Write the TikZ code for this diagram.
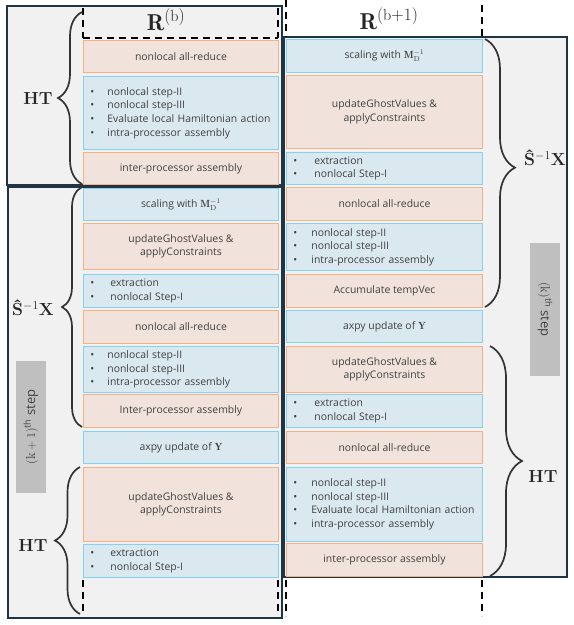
\documentclass[tikz,border=0pt]{standalone}
\usepackage{fontspec}
\setsansfont{Open Sans}
\usetikzlibrary{decorations.pathreplacing}
\definecolor{ofill}{HTML}{F1E3DC}
\definecolor{odraw}{HTML}{F4B183}
\definecolor{bfill}{HTML}{DAE8F0}
\definecolor{bdraw}{HTML}{86D0F0}
\definecolor{pfill}{HTML}{F1F1F1}
\definecolor{pdraw}{HTML}{1F3445}
\definecolor{txt}{HTML}{404040}
\definecolor{glab}{HTML}{BFBFBF}
\newcommand\bul[2][17pt]{\makebox[#1][l]{•}#2}
\tikzset{
  boxbase/.style={rectangle, line width=0.9pt, text=txt, anchor=north west,
    font=\sffamily\fontsize{10.4}{13.6}\selectfont, align=center, inner sep=2pt},
  obox/.style={boxbase, fill=ofill, draw=odraw},
  bbox/.style={boxbase, fill=bfill, draw=bdraw},
  lw/.style={minimum width=195pt},
  rw/.style={minimum width=196pt},
  lst/.style={align=left, inner xsep=7pt},
  llst/.style={lst, text width=181pt},
  rlst/.style={lst, text width=182pt},
  panel/.style={draw=pdraw, fill=pfill, line width=1.3pt},
  dsh/.style={line width=1.5pt, dash pattern=on 7pt off 5pt, draw=black},
  brc/.style={decorate, line width=1.7pt, draw=black!80},
  blab/.style={font=\rmfamily\bfseries\fontsize{17.5}{20}\selectfont, text=black!85, inner sep=1pt},
  hlab/.style={font=\fontsize{23}{26}\selectfont, text=black!85},
  glabel/.style={fill=glab, text=txt, minimum height=30pt, inner sep=0pt,
    font=\sffamily\fontsize{13}{15}\selectfont}
}
\begin{document}
\begin{tikzpicture}[x=1pt,y=-1pt]
\useasboundingbox (0,0) rectangle (574,625);
% panels
\draw[panel] (7,6) rectangle (282,185);
\draw[panel] (8,187) rectangle (282,618);
\draw[panel] (284,37) rectangle (567,577);

% headers
\node[hlab] (Rb) at (166,20) {$\mathbf{R}^{(\mathrm{b})}$};
\node[hlab] (Rb1) at (389,19) {$\mathbf{R}^{(\mathrm{b}+1)}$};
\draw[dsh] (83,8) -- (83,38);
\draw[dsh] (278,8) -- (278,38);
\draw[dsh] (83,38) -- (278,38);
\draw[dsh] (286,0) -- (286,37);
\draw[dsh] (482,5) -- (482,37);

% left column
\node[obox,lw,minimum height=32pt] (L1) at (83,40) {nonlocal all-reduce};
\node[bbox,lw,llst,minimum height=73pt] (L2) at (83,76) {\bul{nonlocal step-II}\\\bul{nonlocal step-III}\\\bul{Evaluate local Hamiltonian action}\\\bul{intra-processor assembly}};
\node[obox,lw,minimum height=32pt] (L3) at (83,152) {inter-processor assembly};
\node[bbox,lw,minimum height=32pt] (L4) at (83,188) {scaling with $\mathbf{M}_{\mathrm{D}}^{-1}$};
\node[obox,lw,minimum height=46pt] (L5) at (83,223) {updateGhostValues \&\\applyConstraints};
\node[bbox,lw,llst,minimum height=33pt] (L6) at (83,274) {\bul[20pt]{extraction}\\\bul[20pt]{nonlocal Step-I}};
\node[obox,lw,minimum height=33pt] (L7) at (83,310) {nonlocal all-reduce};
\node[bbox,lw,llst,minimum height=46pt] (L8) at (83,346) {\bul{nonlocal step-II}\\\bul{nonlocal step-III}\\\bul{intra-processor assembly}};
\node[obox,lw,minimum height=33pt] (L9) at (83,394) {Inter-processor assembly};
\node[bbox,lw,minimum height=32pt] (L10) at (83,431) {axpy update of $\mathbf{Y}$};
\node[obox,lw,minimum height=74pt] (L11) at (83,467) {updateGhostValues \&\\applyConstraints};
\node[bbox,lw,llst,minimum height=33pt] (L12) at (83,544) {\bul[20pt]{extraction}\\\bul[20pt]{nonlocal Step-I}};

% right column
\node[bbox,rw,minimum height=33pt] (R1) at (286,39) {scaling with $\mathbf{M}_{\mathrm{D}}^{-1}$};
\node[obox,rw,minimum height=73pt] (R2) at (286,75) {updateGhostValues \&\\applyConstraints};
\node[bbox,rw,rlst,minimum height=32pt] (R3) at (286,152) {\bul[21pt]{extraction}\\\bul[21pt]{nonlocal Step-I}};
\node[obox,rw,minimum height=33pt] (R4) at (286,187) {nonlocal all-reduce};
\node[bbox,rw,rlst,minimum height=47pt] (R5) at (286,223) {\bul[18pt]{nonlocal step-II}\\\bul[18pt]{nonlocal step-III}\\\bul[18pt]{intra-processor assembly}};
\node[obox,rw,minimum height=33pt] (R6) at (286,274) {Accumulate tempVec};
\node[bbox,rw,minimum height=32pt] (R7) at (286,310) {axpy update of $\mathbf{Y}$};
\node[obox,rw,minimum height=46pt] (R8) at (286,346) {updateGhostValues \&\\applyConstraints};
\node[bbox,rw,rlst,minimum height=33pt] (R9) at (286,394) {\bul[21pt]{extraction}\\\bul[21pt]{nonlocal Step-I}};
\node[obox,rw,minimum height=32pt] (R10) at (286,431) {nonlocal all-reduce};
\node[bbox,rw,rlst,minimum height=74pt] (R11) at (286,467) {\bul[18pt]{nonlocal step-II}\\\bul[18pt]{nonlocal step-III}\\\bul[18pt]{Evaluate local Hamiltonian action}\\\bul[18pt]{intra-processor assembly}};
\node[obox,rw,minimum height=33pt] (R12) at (286,543) {inter-processor assembly};

% bottom dashed guides
\draw[dsh] (83,580) -- (83,614);
\draw[dsh] (278,580) -- (278,614);
\draw[dsh] (286,580) -- (286,616);
\draw[dsh] (482,580) -- (482,616);

% braces
\draw[brc, decoration={brace, amplitude=24pt}] (82,184) -- (82,12);
\draw[brc, decoration={brace, amplitude=20pt}] (82,427) -- (82,187);
\draw[brc, decoration={brace, amplitude=25pt}] (80,614) -- (80,467);
\draw[brc, decoration={brace, amplitude=30pt, aspect=0.48}] (485,39) -- (485,307);
\draw[brc, decoration={brace, amplitude=32pt}] (490,346) -- (490,576);

% brace labels
\node[blab] (HT1) at (38,98) {HT};
\node[blab] (SX1) at (33,308) {Ŝ$^{-1}$X};
\node[blab] (HT2) at (33,545) {HT};
\node[blab] (SX2) at (545,158) {Ŝ$^{-1}$X};
\node[blab] (HT3) at (543,476) {HT};

% step labels
\node[glabel, rotate=90, minimum width=132pt] (K1) at (31,427) {$(\mathrm{k}+1)$\textsuperscript{th} step};
\node[glabel, rotate=-90, minimum width=133pt] (K2) at (545,309.5) {$(\mathrm{k})$\textsuperscript{th} step};
\end{tikzpicture}
\end{document}
